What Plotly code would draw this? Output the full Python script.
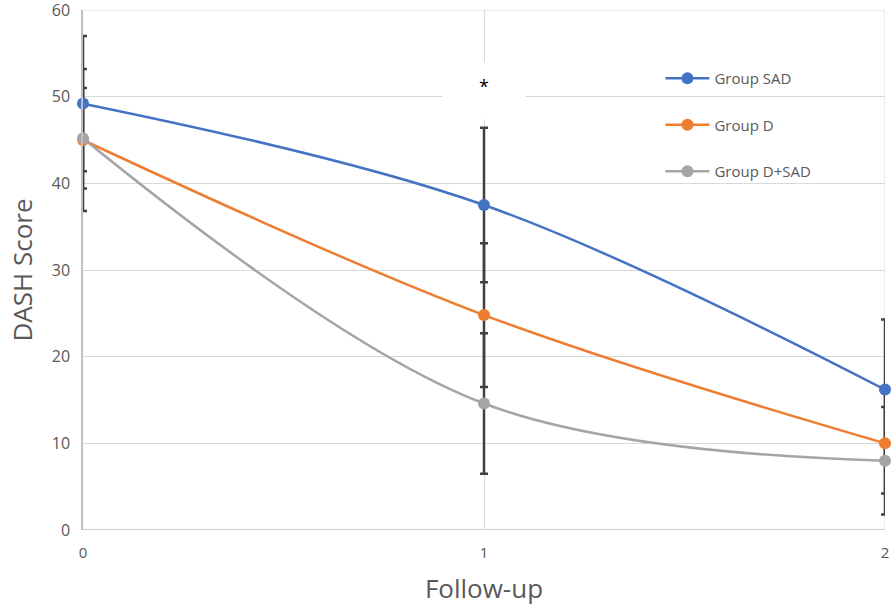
import plotly.graph_objects as go

follow_up = [0, 1, 2]
groups = ["Group SAD", "Group D", "Group D+SAD"]
dash_sad = [49.2, 37.5, 16.2]
dash_d = [45.0, 24.8, 10.0]
dash_dsad = [45.2, 14.6, 8.0]
sd_sad = [7.8, 8.9, 8.1]
sd_d = [8.2, 8.3, 5.8]
sd_dsad = [5.8, 8.1, 6.2]

colors = ["#4472C4", "#ED7D31", "#A5A5A5"]
means = [dash_sad, dash_d, dash_dsad]
sds = [sd_sad, sd_d, sd_dsad]
txt = "#595959"
grid = "#D9D9D9"
font = "Open Sans"

fig = go.Figure()

# error bars first so the lines/markers sit on top of them
for m, s in zip(means, sds):
    fig.add_trace(go.Scatter(
        x=follow_up, y=m, mode="markers", showlegend=False, hoverinfo="skip",
        marker=dict(size=1, opacity=0),
        error_y=dict(type="data", array=s, visible=True, color="#404040",
                     thickness=2.5, width=4),
        cliponaxis=False,
    ))

for i, (name, m) in enumerate(zip(groups, means)):
    fig.add_trace(go.Scatter(
        x=follow_up, y=m, name=name, mode="lines+markers",
        line=dict(color=colors[i], width=2.5, shape="spline", smoothing=1),
        marker=dict(color=colors[i], size=12),
        legendgroup=name, cliponaxis=False,
    ))

# white label box behind the significance star
fig.add_annotation(x=1, y=50.6, text=" ", showarrow=False,
                   bgcolor="white", width=80, height=54)
fig.add_annotation(x=1, y=51.2, text="*", showarrow=False,
                   font=dict(size=18, color="#000000", family=font))

fig.update_layout(
    width=896, height=610,
    margin=dict(l=83, r=11, t=10, b=80, autoexpand=False),
    paper_bgcolor="white", plot_bgcolor="white",
    font=dict(family=font, color=txt, size=16),
    legend=dict(x=0.72, y=0.9, xanchor="left", yanchor="top",
                bgcolor="rgba(0,0,0,0)", font=dict(size=15, color=txt),
                tracegroupgap=24, itemwidth=44),
    xaxis=dict(range=[0, 2], tickvals=follow_up, showgrid=True, gridcolor=grid,
               zeroline=False, showline=False, ticks="", ticklabelstandoff=12,
               ticklabeloverflow="allow", automargin=False,
               title=dict(text="Follow-up", font=dict(size=26, color=txt), standoff=18),
               tickfont=dict(size=15, color=txt)),
    yaxis=dict(range=[0, 60], dtick=10, showgrid=True, gridcolor=grid,
               zeroline=False, showline=True, linecolor="#BFBFBF", linewidth=1.5,
               ticks="", ticklabelstandoff=8, ticklabeloverflow="allow", automargin=False,
               title=dict(text="DASH Score", font=dict(size=26, color=txt), standoff=12),
               tickfont=dict(size=16, color=txt)),
)
# gridlines on the outer edges (plotly drops them at the range ends)
fig.add_vline(x=2, line=dict(color=grid, width=1), layer="below")
fig.add_hline(y=60, line=dict(color=grid, width=1), layer="below")
fig.add_hline(y=0, line=dict(color="#BFBFBF", width=1.5), layer="below")

fig.write_html("out.html", config={"displayModeBar": False},
               post_script="document.body.style.margin='0';")
